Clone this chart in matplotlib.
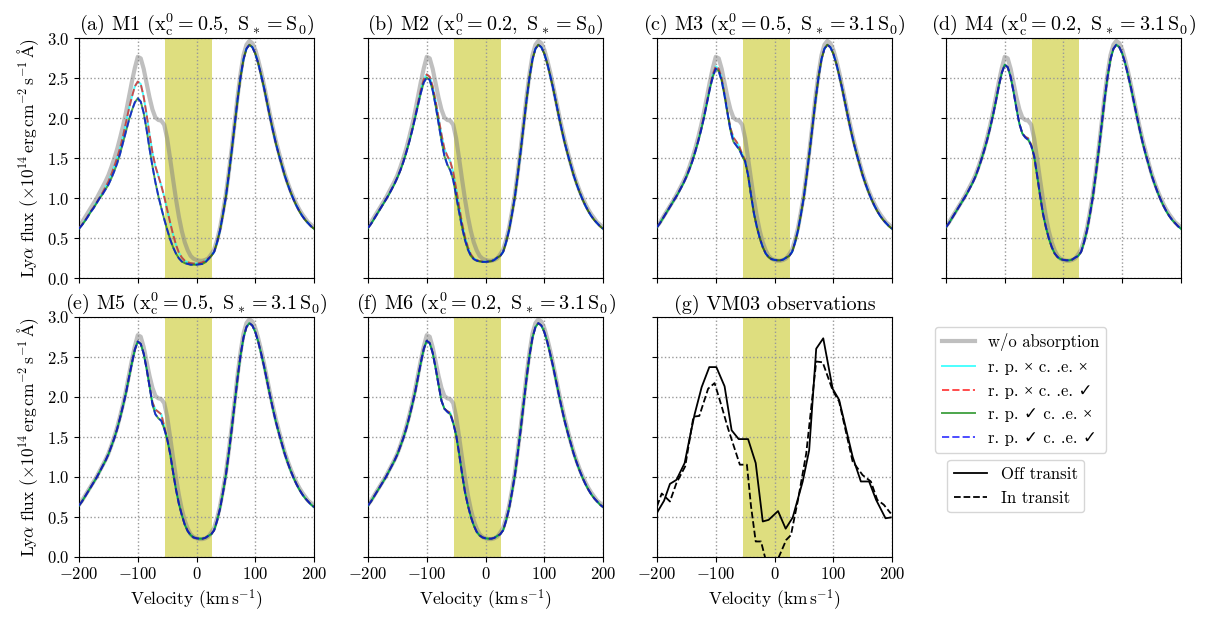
import numpy as np
import matplotlib.pyplot as plt
from matplotlib.lines import Line2D

plt.rcParams['font.family'] = ['cmr10', 'Liberation Serif', 'DejaVu Sans']
plt.rcParams['mathtext.fontset'] = 'cm'
plt.rcParams['axes.formatter.use_mathtext'] = True
plt.rcParams['axes.unicode_minus'] = True

# velocity sampling (km/s)
vel_left = np.arange(-200, 25, 5)     # -200 ... 20
vel_right = np.arange(25, 205, 5)     # 25 ... 200

# transit band (km/s)
band_lo, band_hi = -53, 26

# intrinsic profile, w/o absorption
gray_left = [0.65, 0.70, 0.76, 0.82, 0.88, 0.94, 1.00, 1.07, 1.14, 1.21,
             1.29, 1.39, 1.50, 1.62, 1.76, 1.91, 2.08, 2.27, 2.46, 2.63,
             2.77, 2.75, 2.62, 2.44, 2.26, 2.11, 2.01, 1.98, 1.97, 1.92,
             1.75, 1.50, 1.24, 0.99, 0.77, 0.59, 0.45, 0.35, 0.28, 0.245,
             0.23, 0.22, 0.22, 0.23, 0.25]
gray_right = [0.30, 0.36, 0.48, 0.63, 0.83, 1.05, 1.33, 1.63, 1.95, 2.28,
              2.56, 2.79, 2.92, 2.97, 2.94, 2.86, 2.73, 2.58, 2.41, 2.23,
              2.05, 1.88, 1.72, 1.58, 1.44, 1.31, 1.20, 1.10, 1.01, 0.93,
              0.86, 0.80, 0.75, 0.70, 0.67, 0.64]

# red wing, same for every model
model_right = [0.28, 0.33, 0.45, 0.60, 0.80, 1.02, 1.30, 1.60, 1.92, 2.24,
               2.52, 2.74, 2.87, 2.92, 2.89, 2.81, 2.69, 2.54, 2.38, 2.20,
               2.02, 1.85, 1.69, 1.55, 1.42, 1.29, 1.18, 1.08, 0.99, 0.91,
               0.84, 0.78, 0.73, 0.69, 0.65, 0.62]

# blue side per model: rp = without radiation pressure (cyan / red), rp_on = with (green / blue)
m1_rp = [0.625, 0.67, 0.72, 0.78, 0.84, 0.89, 0.95, 1.01, 1.07, 1.14,
         1.21, 1.30, 1.40, 1.51, 1.63, 1.78, 1.95, 2.12, 2.27, 2.40,
         2.46, 2.43, 2.27, 2.05, 1.80, 1.57, 1.40, 1.28, 1.16, 1.02,
         0.86, 0.70, 0.55, 0.42, 0.32, 0.26, 0.22, 0.20, 0.19, 0.185,
         0.185, 0.19, 0.20, 0.22, 0.25]
m1_rp_on = [0.62, 0.665, 0.715, 0.77, 0.83, 0.88, 0.94, 1.00, 1.05, 1.11,
            1.17, 1.25, 1.34, 1.44, 1.56, 1.70, 1.84, 1.98, 2.10, 2.20,
            2.25, 2.21, 2.07, 1.86, 1.62, 1.40, 1.20, 1.03, 0.88, 0.74,
            0.61, 0.49, 0.39, 0.31, 0.25, 0.21, 0.19, 0.18, 0.17, 0.17,
            0.17, 0.175, 0.18, 0.20, 0.24]
m2_rp = [0.63, 0.68, 0.74, 0.80, 0.86, 0.92, 0.98, 1.04, 1.11, 1.18,
         1.26, 1.35, 1.46, 1.58, 1.71, 1.86, 2.02, 2.19, 2.36, 2.49,
         2.55, 2.52, 2.40, 2.22, 2.01, 1.80, 1.62, 1.53, 1.46, 1.33,
         1.12, 0.90, 0.69, 0.52, 0.39, 0.30, 0.25, 0.23, 0.215, 0.21,
         0.21, 0.21, 0.215, 0.23, 0.26]
m2_rp_on = [0.63, 0.68, 0.74, 0.80, 0.86, 0.92, 0.98, 1.04, 1.11, 1.18,
            1.26, 1.35, 1.45, 1.57, 1.70, 1.84, 2.00, 2.16, 2.32, 2.45,
            2.51, 2.48, 2.35, 2.16, 1.94, 1.72, 1.53, 1.42, 1.35, 1.23,
            1.03, 0.83, 0.64, 0.48, 0.36, 0.28, 0.24, 0.22, 0.21, 0.205,
            0.205, 0.21, 0.215, 0.23, 0.26]
m3_rp = [0.64, 0.69, 0.75, 0.81, 0.87, 0.93, 0.99, 1.05, 1.12, 1.19,
         1.27, 1.37, 1.47, 1.59, 1.72, 1.87, 2.03, 2.21, 2.39, 2.55,
         2.65, 2.62, 2.50, 2.30, 2.08, 1.88, 1.76, 1.71, 1.65, 1.55,
         1.48, 1.29, 1.04, 0.81, 0.64, 0.50, 0.39, 0.31, 0.265, 0.24,
         0.23, 0.225, 0.225, 0.235, 0.26]
m3_rp_on = [0.64, 0.69, 0.75, 0.81, 0.87, 0.93, 0.99, 1.05, 1.12, 1.19,
            1.27, 1.36, 1.46, 1.58, 1.71, 1.85, 2.01, 2.19, 2.37, 2.52,
            2.62, 2.59, 2.47, 2.28, 2.06, 1.85, 1.71, 1.66, 1.61, 1.53,
            1.46, 1.29, 1.04, 0.81, 0.64, 0.50, 0.39, 0.31, 0.265, 0.24,
            0.23, 0.225, 0.225, 0.235, 0.26]
m4_rp = [0.64, 0.69, 0.75, 0.81, 0.87, 0.93, 0.99, 1.05, 1.12, 1.19,
         1.27, 1.37, 1.48, 1.60, 1.73, 1.88, 2.04, 2.22, 2.41, 2.57,
         2.67, 2.64, 2.52, 2.33, 2.12, 1.93, 1.81, 1.77, 1.75, 1.67,
         1.53, 1.29, 1.04, 0.81, 0.64, 0.50, 0.39, 0.31, 0.265, 0.24,
         0.23, 0.225, 0.225, 0.235, 0.26]
m4_rp_on = [0.64, 0.69, 0.75, 0.81, 0.87, 0.93, 0.99, 1.05, 1.12, 1.19,
            1.27, 1.37, 1.48, 1.60, 1.73, 1.88, 2.04, 2.22, 2.41, 2.57,
            2.67, 2.64, 2.52, 2.33, 2.12, 1.93, 1.81, 1.76, 1.73, 1.66,
            1.53, 1.29, 1.04, 0.81, 0.64, 0.50, 0.39, 0.31, 0.265, 0.24,
            0.23, 0.225, 0.225, 0.235, 0.26]
m5_rp = [0.64, 0.69, 0.75, 0.81, 0.87, 0.93, 0.99, 1.06, 1.13, 1.20,
         1.28, 1.38, 1.48, 1.60, 1.74, 1.89, 2.05, 2.24, 2.42, 2.59,
         2.69, 2.66, 2.54, 2.35, 2.13, 1.93, 1.84, 1.81, 1.78, 1.63,
         1.48, 1.29, 1.06, 0.84, 0.66, 0.52, 0.40, 0.32, 0.27, 0.24,
         0.23, 0.225, 0.225, 0.235, 0.26]
m5_rp_on = [0.64, 0.69, 0.75, 0.81, 0.87, 0.93, 0.99, 1.06, 1.13, 1.20,
            1.28, 1.38, 1.48, 1.60, 1.74, 1.89, 2.05, 2.24, 2.42, 2.59,
            2.69, 2.66, 2.54, 2.35, 2.13, 1.90, 1.78, 1.73, 1.70, 1.60,
            1.47, 1.29, 1.06, 0.84, 0.66, 0.52, 0.40, 0.32, 0.27, 0.24,
            0.23, 0.225, 0.225, 0.235, 0.26]
m6_rp = [0.64, 0.69, 0.75, 0.81, 0.87, 0.93, 0.99, 1.06, 1.13, 1.20,
         1.28, 1.38, 1.48, 1.60, 1.74, 1.89, 2.05, 2.24, 2.43, 2.60,
         2.70, 2.67, 2.55, 2.36, 2.15, 1.95, 1.85, 1.82, 1.80, 1.68,
         1.52, 1.29, 1.04, 0.81, 0.64, 0.50, 0.39, 0.31, 0.265, 0.24,
         0.23, 0.225, 0.225, 0.235, 0.26]
m6_rp_on = [0.64, 0.69, 0.75, 0.81, 0.87, 0.93, 0.99, 1.06, 1.13, 1.20,
            1.28, 1.38, 1.48, 1.60, 1.74, 1.89, 2.05, 2.24, 2.43, 2.60,
            2.70, 2.67, 2.55, 2.36, 2.15, 1.95, 1.85, 1.81, 1.78, 1.67,
            1.52, 1.29, 1.04, 0.81, 0.64, 0.50, 0.39, 0.31, 0.265, 0.24,
            0.23, 0.225, 0.225, 0.235, 0.26]

titles = [r'(a) M1 ($\mathrm{x_c^0 = 0.5,\ S_* = S_0}$)',
          r'(b) M2 ($\mathrm{x_c^0 = 0.2,\ S_* = S_0}$)',
          r'(c) M3 ($\mathrm{x_c^0 = 0.5,\ S_* = 3.1\,S_0}$)',
          r'(d) M4 ($\mathrm{x_c^0 = 0.2,\ S_* = 3.1\,S_0}$)',
          r'(e) M5 ($\mathrm{x_c^0 = 0.5,\ S_* = 3.1\,S_0}$)',
          r'(f) M6 ($\mathrm{x_c^0 = 0.2,\ S_* = 3.1\,S_0}$)']
models_rp = [m1_rp, m2_rp, m3_rp, m4_rp, m5_rp, m6_rp]
models_rp_on = [m1_rp_on, m2_rp_on, m3_rp_on, m4_rp_on, m5_rp_on, m6_rp_on]

# VM03 observations
off_vel = [-200, -188, -178, -167, -153, -144, -136, -124, -111, -99, -85,
           -73, -61, -45, -32, -20, -10, 6, 19, 31, 48, 59, 71, 83, 99,
           110, 133, 147, 161, 173, 189, 198]
off_flux = [0.55, 0.70, 0.91, 0.96, 1.17, 1.50, 1.78, 2.12, 2.37, 2.37, 2.13,
            1.58, 1.47, 1.47, 1.17, 0.44, 0.46, 0.57, 0.35, 0.49, 0.94, 1.33,
            2.60, 2.73, 2.10, 1.96, 1.25, 0.94, 0.94, 0.71, 0.48, 0.49]
in_vel = [-200, -192, -178, -167, -152, -138, -128, -113, -102, -90, -79,
          -59, -47, -40, -32, -23, -15, 7, 20, 28, 40, 54, 71, 82, 99, 110,
          133, 150, 164, 175, 186, 198]
in_flux = [0.63, 0.79, 0.69, 0.92, 1.13, 1.75, 1.76, 2.10, 2.17, 1.88, 1.60,
           1.15, 1.15, 0.63, 0.19, 0.19, -0.04, -0.01, 0.21, 0.27, 0.71, 1.29,
           2.44, 2.43, 2.08, 1.94, 1.19, 1.02, 0.94, 0.71, 0.65, 0.54]

vel = np.concatenate([vel_left, vel_right])
gray = np.concatenate([gray_left, gray_right])

fig, axes = plt.subplots(2, 4, figsize=(12.18, 6.29), dpi=100, sharex=True, sharey=True)
fig.subplots_adjust(left=0.0649, right=0.9696, bottom=0.115, top=0.939,
                    wspace=0.23, hspace=0.16)

panels = [axes[0, 0], axes[0, 1], axes[0, 2], axes[0, 3], axes[1, 0], axes[1, 1]]
lw = 1.4
fs_title = 14.5
fs = 12.5
for ax, title, rp, rp_on in zip(panels, titles, models_rp, models_rp_on):
    a = np.concatenate([rp, model_right])
    b = np.concatenate([rp_on, model_right])
    ax.axvspan(band_lo, band_hi, color='y', alpha=0.5, lw=0, zorder=1)
    ax.plot(vel, gray, color='gray', alpha=0.5, lw=3, zorder=2)
    ax.plot(vel, a, color='cyan', alpha=0.7, lw=lw, zorder=3)
    ax.plot(vel, a, color='r', ls='--', alpha=0.7, lw=lw, zorder=3)
    ax.plot(vel, b, color='g', alpha=0.7, lw=lw, zorder=3)
    ax.plot(vel, b, color='b', ls='--', alpha=0.7, lw=lw, zorder=3)
    ax.set_title(title, fontsize=fs_title, pad=5)

ax = axes[1, 2]
ax.axvspan(band_lo, band_hi, color='y', alpha=0.5, lw=0, zorder=1)
ax.plot(off_vel, off_flux, color='k', lw=1.3, zorder=3)
ax.plot(in_vel, in_flux, color='k', ls='--', lw=1.3, zorder=3)
ax.set_title('(g) VM03 observations', fontsize=fs_title, pad=5)

for ax in axes.flat:
    ax.grid(True, ls=':', color='0.6', lw=1)
    ax.tick_params(labelsize=12)
ax = axes[0, 0]
ax.set_xlim(-200, 200)
ax.set_ylim(0, 3)
ax.set_xticks([-200, -100, 0, 100, 200])
ax.set_yticks(np.arange(0, 3.01, 0.5))

ylab = r'Ly$\alpha$ flux ($\times10^{14}\,\mathrm{erg\,cm^{-2}\,s^{-1}}\,\mathrm{\AA}$)'
axes[0, 0].set_ylabel(ylab, fontsize=fs)
axes[1, 0].set_ylabel(ylab, fontsize=fs)
for ax in axes[1, :3]:
    ax.set_xlabel(r'Velocity ($\mathrm{km\,s^{-1}}$)', fontsize=fs)
axes[1, 3].axis('off')

h1 = [Line2D([], [], color='gray', alpha=0.5, lw=3),
      Line2D([], [], color='cyan', alpha=0.7, lw=lw),
      Line2D([], [], color='r', ls='--', alpha=0.7, lw=lw),
      Line2D([], [], color='g', alpha=0.7, lw=lw),
      Line2D([], [], color='b', ls='--', alpha=0.7, lw=lw)]
l1 = ['w/o absorption',
      'r. p. × c. .e. ×',
      'r. p. × c. .e. ✓',
      'r. p. ✓ c. .e. ×',
      'r. p. ✓ c. .e. ✓']
fig.legend(h1, l1, loc='upper center', bbox_to_anchor=(0.838, 0.494), fontsize=12)
h2 = [Line2D([], [], color='k', lw=1.3), Line2D([], [], color='k', ls='--', lw=1.3)]
fig.legend(h2, ['Off transit', 'In transit'], loc='upper center',
           bbox_to_anchor=(0.834, 0.282), fontsize=12)

fig.savefig('out.png', dpi=100)
